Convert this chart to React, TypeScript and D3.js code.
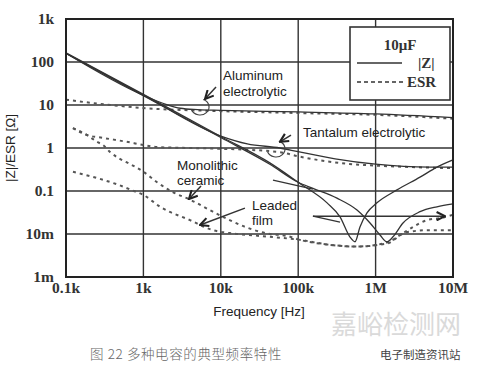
import React from "react";
import * as d3 from "d3";

const W = 480;
const H = 369;
const plot = { left: 66, right: 453, top: 19, bottom: 277 };

// axis ticks
const xTicks = [1e2, 1e3, 1e4, 1e5, 1e6, 1e7];
const xTickLabels = ["0.1k", "1k", "10k", "100k", "1M", "10M"];
const yTicks = [1e-3, 1e-2, 1e-1, 1, 10, 100, 1000];
const yTickLabels = ["1m", "10m", "0.1", "1", "10", "100", "1k"];

// |Z| curves, [Hz, ohm]
const aluminumZ = [
  [100, 160], [1000, 16.8], [2000, 10.2], [3000, 8.4], [5000, 7.8],
  [10000, 7.5], [100000, 6.9], [1e6, 6.2], [1e7, 5.1],
];
const tantalumZ = [
  [100, 160], [1000, 17], [10000, 1.9], [22000, 1.25], [58000, 1.0],
  [100000, 0.82], [300000, 0.56], [1e6, 0.42], [5e6, 0.36], [1e7, 0.36],
];
const ceramicZ = [
  [100, 158], [1000, 16.5], [10000, 1.75], [43000, 0.42], [100000, 0.16],
  [155000, 0.115], [317000, 0.068], [575000, 0.036], [847000, 0.018],
  [1.14e6, 0.0095], [1.4e6, 0.0066], [1.68e6, 0.0086], [2.26e6, 0.018],
  [3.75e6, 0.033], [6.2e6, 0.043], [1e7, 0.05],
];
const filmZ = [
  [100, 163], [1000, 17.6], [10000, 1.85], [43000, 0.45], [105000, 0.15],
  [236000, 0.053], [347000, 0.025], [467000, 0.0085], [542000, 0.0066],
  [628000, 0.0146], [774000, 0.031], [1.04e6, 0.053], [1.89e6, 0.106],
  [3.75e6, 0.21], [6.2e6, 0.36], [1e7, 0.53],
];

// ESR curves, [Hz, ohm]
const aluminumESR = [
  [100, 13.3], [230, 11], [500, 9.5], [1000, 8.5], [10000, 7.2],
  [100000, 6.5], [1e6, 5.9], [1e7, 4.8],
];
const tantalumESR = [
  [123, 2.9], [187, 2.0], [300, 1.72], [600, 1.4], [1000, 1.18],
  [1500, 1.05], [4000, 1.0], [10000, 0.96], [58000, 0.8], [100000, 0.64],
  [500000, 0.42], [1e6, 0.39], [5e6, 0.35], [1e7, 0.34],
];
const ceramicESR = [
  [123, 2.9], [187, 2.0], [252, 1.39], [300, 1.18], [370, 0.81],
  [470, 0.59], [630, 0.45], [1000, 0.28], [1500, 0.16], [2400, 0.094],
  [4000, 0.063], [7900, 0.033], [13000, 0.021], [22000, 0.014],
  [43000, 0.01], [72000, 0.009], [105000, 0.0073], [258000, 0.0056],
  [575000, 0.0051], [1.4e6, 0.0063], [2.26e6, 0.0105], [4.6e6, 0.021],
  [7.4e6, 0.024], [1e7, 0.028],
];
const filmESR = [
  [123, 0.28], [252, 0.2], [470, 0.14], [750, 0.1], [1000, 0.081],
  [1640, 0.043], [4000, 0.021], [7900, 0.0123], [13000, 0.0105],
  [32000, 0.009], [105000, 0.0073], [258000, 0.0056], [542000, 0.0051],
  [1.4e6, 0.006], [2.5e6, 0.011], [5e6, 0.0123], [1e7, 0.0123],
];

// pointer arrows and leader lines, [Hz, ohm] -> [Hz, ohm]
const arrows = [
  [[8670, 26.2], [6250, 13.8]],
  [[80700, 2.0], [58000, 1.39]],
  [[5550, 0.13], [3880, 0.065]],
  [[20500, 0.04], [5390, 0.0162]],
  [[155000, 0.026], [7.88e6, 0.026]],
];
const leaders = [
  [[47200, 0.18], [155000, 0.11]],
  [[155000, 0.026], [347000, 0.019]],
];
// circled bends: centre [Hz, ohm]
const circles = [[5390, 9.0], [51700, 0.95]];

const x = d3.scaleLog().domain([1e2, 1e7]).range([plot.left, plot.right]);
const y = d3.scaleLog().domain([1e-3, 1e3]).range([plot.bottom, plot.top]);

const line = d3
  .line()
  .x((d) => x(d[0]))
  .y((d) => y(d[1]))
  .curve(d3.curveMonotoneX);

const series = [
  { data: aluminumESR, dashed: true },
  { data: tantalumESR, dashed: true },
  { data: ceramicESR, dashed: true },
  { data: filmESR, dashed: true },
  { data: aluminumZ, dashed: false },
  { data: tantalumZ, dashed: false },
  { data: ceramicZ, dashed: false },
  { data: filmZ, dashed: false },
];

const serif = "'Liberation Serif', 'DejaVu Serif', serif";
const sans = "'Liberation Sans', Arial, sans-serif";
const cjk = "'Noto Sans CJK SC', sans-serif";

function arcPath(cx, cy, rx, ry) {
  const a0 = (-70 * Math.PI) / 180;
  const a1 = (160 * Math.PI) / 180;
  const x0 = cx + rx * Math.cos(a0);
  const y0 = cy + ry * Math.sin(a0);
  const x1 = cx + rx * Math.cos(a1);
  const y1 = cy + ry * Math.sin(a1);
  return `M${x0},${y0} A${rx},${ry} 0 1 1 ${x1},${y1}`;
}

export default function App() {
  return (
    <svg
      width={W}
      height={H}
      style={{ position: "fixed", left: 0, top: 0, background: "#fff" }}
    >
      <defs>
        <marker
          id="head"
          viewBox="0 0 10 10"
          refX="9"
          refY="5"
          markerWidth="7"
          markerHeight="7"
          orient="auto"
        >
          <path d="M1,1 L9,5 L1,9" fill="none" stroke="#222" strokeWidth="2" />
        </marker>
      </defs>

      {/* grid */}
      {xTicks.slice(1, -1).map((t) => (
        <line key={"gx" + t} x1={x(t)} x2={x(t)} y1={plot.top} y2={plot.bottom}
          stroke="#333" strokeWidth={1.4} />
      ))}
      {yTicks.slice(1, -1).map((t) => (
        <line key={"gy" + t} x1={plot.left} x2={plot.right} y1={y(t)} y2={y(t)}
          stroke="#333" strokeWidth={1.4} />
      ))}

      {/* legend box */}
      <rect x={350} y={27} width={100} height={73} fill="#fff" stroke="#333" strokeWidth={1.6} />
      <text x={400} y={50} textAnchor="middle" fontFamily={serif} fontWeight="bold" fontSize={15} fill="#333">10μF</text>
      <line x1={357} x2={402} y1={63} y2={63} stroke="#333" strokeWidth={1.5} />
      <text x={418} y={68} fontFamily={serif} fontWeight="bold" fontSize={15} fill="#333">|Z|</text>
      <line x1={357} x2={405} y1={82} y2={82} stroke="#333" strokeWidth={1.5} strokeDasharray="4 3" />
      <text x={407} y={87} fontFamily={serif} fontWeight="bold" fontSize={15} fill="#333">ESR</text>

      {/* curves */}
      {series.map((s, i) => (
        <path key={i} d={line(s.data)} fill="none"
          stroke={s.dashed ? "#555" : "#333"}
          strokeWidth={s.dashed ? 2 : 1.3}
          strokeDasharray={s.dashed ? "3 4" : null} />
      ))}

      {/* annotations */}
      {circles.map((c, i) => (
        <path key={"c" + i} d={arcPath(x(c[0]), y(c[1]), 9, 8)} fill="none" stroke="#444" strokeWidth={1.2} />
      ))}
      {arrows.map((a, i) => (
        <line key={"a" + i} x1={x(a[0][0])} y1={y(a[0][1])} x2={x(a[1][0])} y2={y(a[1][1])}
          stroke="#333" strokeWidth={1.5} markerEnd="url(#head)" />
      ))}
      {leaders.map((a, i) => (
        <line key={"l" + i} x1={x(a[0][0])} y1={y(a[0][1])} x2={x(a[1][0])} y2={y(a[1][1])}
          stroke="#333" strokeWidth={1.3} />
      ))}

      <g fontFamily={sans} fontSize={13.5} fill="#222">
        <text x={223} y={80}>Aluminum</text>
        <text x={223} y={96}>electrolytic</text>
        <text x={303} y={137}>Tantalum electrolytic</text>
        <text x={177} y={170}>Monolithic</text>
        <text x={177} y={185}>ceramic</text>
        <text x={252} y={210}>Leaded</text>
        <text x={252} y={225}>film</text>
      </g>

      {/* frame */}
      <rect x={plot.left} y={plot.top} width={plot.right - plot.left} height={plot.bottom - plot.top}
        fill="none" stroke="#222" strokeWidth={2} />

      {/* tick labels */}
      {yTicks.map((t, i) => (
        <text key={"ty" + t} x={54} y={y(t)} dy="0.35em" textAnchor="end"
          fontFamily={serif} fontWeight="bold" fontSize={15.5} fill="#333">{yTickLabels[i]}</text>
      ))}
      {xTicks.map((t, i) => (
        <text key={"tx" + t} x={x(t)} y={293} textAnchor="middle"
          fontFamily={serif} fontWeight="bold" fontSize={15.5} fill="#333">{xTickLabels[i]}</text>
      ))}

      <text x={259} y={316} textAnchor="middle" fontFamily={sans} fontSize={13.5} fill="#222">Frequency [Hz]</text>
      <text transform="translate(15,148) rotate(-90)" textAnchor="middle" fontFamily={sans} fontSize={13.5} fill="#222">|Z|/ESR [Ω]</text>

      {/* watermark and caption */}
      <text x={331} y={334} fontFamily={cjk} fontSize={26} fill="#dadada">嘉峪检测网</text>
      <text x={90} y={359} fontFamily={cjk} fontWeight={300} fontSize={13.5} fill="#666" letterSpacing={0.6}>图 22 多种电容的典型频率特性</text>
      <text x={380} y={359} fontFamily={cjk} fontSize={11.5} fill="#444">电子制造资讯站</text>
    </svg>
  );
}
